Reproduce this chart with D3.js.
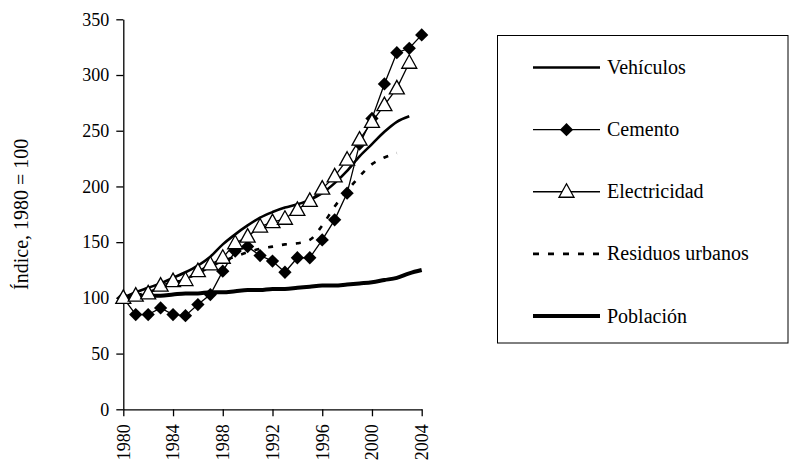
<!DOCTYPE html>
<html>
<head>
<meta charset="utf-8">
<script src="https://cdn.jsdelivr.net/npm/d3@7"></script>
<style>
  body { margin: 0; background: #fff; }
</style>
</head>
<body>
<script>
const width = 796;
const height = 465;
const margin = { top: 19.3, left: 123.3, right: 374.3, bottom: 55.7 };
const fuente = "Liberation Serif";

// datos (indice 1980 = 100)
const anios = [1980, 1981, 1982, 1983, 1984, 1985, 1986, 1987, 1988, 1989, 1990, 1991, 1992,
  1993, 1994, 1995, 1996, 1997, 1998, 1999, 2000, 2001, 2002, 2003, 2004];
const vehiculos = [100, 105, 109, 113, 118, 123, 129, 137, 148, 157, 165, 172, 177, 181, 184,
  188, 194, 203, 214, 227, 238, 249, 258, 263];
const cemento = [100, 85, 85, 91, 85, 84, 94, 103, 124, 142, 146, 138, 133, 123, 136, 136, 152,
  170, 194, 238, 261, 292, 320, 324, 336];
const electricidad = [100, 102, 104, 111, 115, 116, 124, 130, 136, 149, 155, 164, 168, 171, 179,
  187, 198, 209, 224, 242, 258, 273, 288, 311];
const residuos = [100, 102, 105, 109, 113, 117, 122, 128, 133, 137, 141, 144, 146, 148, 149, 152,
  165, 182, 196, 209, 220, 226, 230];
const poblacion = [100, 101, 102, 102, 103, 104, 104, 105, 105, 106, 107, 107, 108, 108, 109,
  110, 111, 111, 112, 113, 114, 116, 118, 122, 125];
const ticksX = [1980, 1984, 1988, 1992, 1996, 2000, 2004];
const ticksY = [0, 50, 100, 150, 200, 250, 300, 350];
const nombres = ["Vehículos", "Cemento", "Electricidad", "Residuos urbanos", "Población"];

const innerW = width - margin.left - margin.right;
const innerH = height - margin.top - margin.bottom;

const svg = d3.select("body").append("svg")
  .attr("width", width)
  .attr("height", height);

const g = svg.append("g")
  .attr("transform", `translate(${margin.left},${margin.top})`);

const x = d3.scaleLinear().domain([1980, 2004]).range([0, innerW]);
const y = d3.scaleLinear().domain([0, 350]).range([innerH, 0]);

const aPuntos = (valores) => valores.map((v, i) => ({ anio: anios[i], v }));
const linea = d3.line().x((d) => x(d.anio)).y((d) => y(d.v)).curve(d3.curveMonotoneX);
const lineaRecta = d3.line().x((d) => x(d.anio)).y((d) => y(d.v));

// ejes
const ejeY = g.append("g")
  .call(d3.axisLeft(y).tickValues(ticksY).tickSize(7).tickPadding(7).tickSizeOuter(0));

const ejeX = g.append("g")
  .attr("transform", `translate(0,${innerH})`)
  .call(d3.axisBottom(x).tickValues(ticksX).tickFormat(d3.format("d")).tickSize(7).tickSizeOuter(0));
ejeX.selectAll("text")
  .attr("text-anchor", "end")
  .attr("transform", "rotate(-90)")
  .attr("x", -15)
  .attr("y", 0)
  .attr("dy", "0.33em");

svg.selectAll(".tick text").attr("font-size", 18);
svg.selectAll(".domain, .tick line").attr("stroke", "#000").attr("stroke-width", 1.3);

svg.append("text")
  .attr("transform", `translate(28,${margin.top + innerH / 2}) rotate(-90)`)
  .attr("text-anchor", "middle")
  .attr("font-size", 20)
  .text("Índice, 1980 = 100");

// series
g.append("path").datum(aPuntos(poblacion))
  .attr("d", linea).attr("fill", "none").attr("stroke", "#000").attr("stroke-width", 4);

g.append("path").datum(aPuntos(residuos))
  .attr("d", linea).attr("fill", "none").attr("stroke", "#000")
  .attr("stroke-width", 2.6).attr("stroke-dasharray", "5,9");

g.append("path").datum(aPuntos(vehiculos))
  .attr("d", linea).attr("fill", "none").attr("stroke", "#000").attr("stroke-width", 2.6);

const diamante = d3.symbol().type(d3.symbolSquare).size(88);
const triangulo = "M0,-8L7.5,5.5L-7.5,5.5Z";

g.append("path").datum(aPuntos(cemento))
  .attr("d", lineaRecta).attr("fill", "none").attr("stroke", "#000").attr("stroke-width", 1.3);
g.append("g").selectAll("path")
  .data(aPuntos(cemento))
  .join("path")
  .attr("d", diamante)
  .attr("transform", (d) => `translate(${x(d.anio)},${y(d.v)}) rotate(45)`)
  .attr("fill", "#000");

g.append("path").datum(aPuntos(electricidad))
  .attr("d", lineaRecta).attr("fill", "none").attr("stroke", "#000").attr("stroke-width", 1.3);
g.append("g").selectAll("path")
  .data(aPuntos(electricidad))
  .join("path")
  .attr("d", triangulo)
  .attr("transform", (d) => `translate(${x(d.anio)},${y(d.v)})`)
  .attr("fill", "#fff")
  .attr("stroke", "#000")
  .attr("stroke-width", 1.3);

// leyenda
const leyenda = svg.append("g");
leyenda.append("rect")
  .attr("x", 497.5).attr("y", 35.5)
  .attr("width", 290.5).attr("height", 307.5)
  .attr("fill", "none").attr("stroke", "#000").attr("stroke-width", 1);

const filaY = d3.scalePoint().domain(nombres).range([67.5, 316]);
const estilos = {
  "Vehículos": { w: 2.6, dash: null },
  "Cemento": { w: 1.3, dash: null },
  "Electricidad": { w: 1.3, dash: null },
  "Residuos urbanos": { w: 2.6, dash: "6,9" },
  "Población": { w: 4, dash: null },
};

nombres.forEach((n) => {
  const fy = filaY(n);
  leyenda.append("line")
    .attr("x1", 533).attr("x2", 600).attr("y1", fy).attr("y2", fy)
    .attr("stroke", "#000").attr("stroke-width", estilos[n].w)
    .attr("stroke-dasharray", estilos[n].dash);
  if (n === "Cemento") {
    leyenda.append("path").attr("d", diamante)
      .attr("transform", `translate(566.5,${fy}) rotate(45)`).attr("fill", "#000");
  }
  if (n === "Electricidad") {
    leyenda.append("path").attr("d", triangulo)
      .attr("transform", `translate(566.5,${fy})`)
      .attr("fill", "#fff").attr("stroke", "#000").attr("stroke-width", 1.3);
  }
  leyenda.append("text")
    .attr("x", 607).attr("y", fy).attr("dy", "0.33em")
    .attr("font-size", 20)
    .text(n);
});

// fuente puesta en cada texto
svg.selectAll("text").attr("font-family", fuente).attr("fill", "#000");
</script>
</body>
</html>
